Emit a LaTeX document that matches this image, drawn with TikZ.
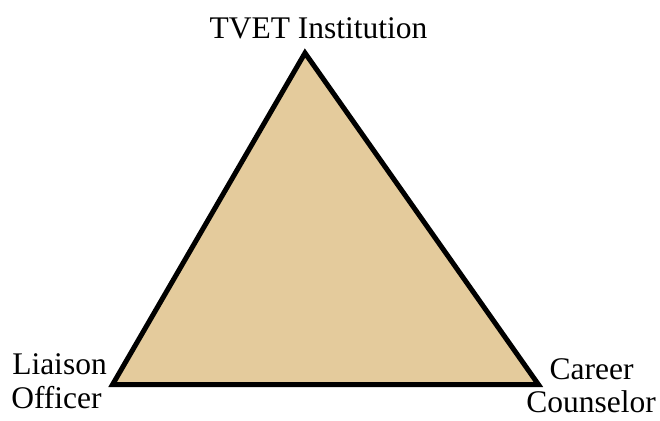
\documentclass[tikz,border=0pt]{standalone}
\usepackage{fontspec}
\setmainfont{Liberation Serif}
\definecolor{papyrus}{RGB}{228,203,156}
\begin{document}
\begin{tikzpicture}[x=1pt,y=-1pt]
\tikzset{
  lbl/.style={inner sep=0pt, font=\fontsize{31.5}{35}\selectfont, anchor=base},
  tri/.style={draw=black, line width=5pt, line join=miter, fill=papyrus}
}
\useasboundingbox (0,0) rectangle (660,420);
\coordinate (apex) at (305,53);
\coordinate (bl) at (112.6,384.5);
\coordinate (br) at (538.4,384.5);
\filldraw[tri] (apex) -- (bl) -- (br) -- cycle;
\node[lbl] (top) at (318.5,39) {TVET Institution};
\node[lbl] (left1) at (59.5,374) {Liaison};
\node[lbl] (left2) at (56.5,408) {Officer};
\node[lbl] (right1) at (591.5,379) {Career};
\node[lbl] (right2) at (591,412.5) {Counselor};
\end{tikzpicture}
\end{document}
